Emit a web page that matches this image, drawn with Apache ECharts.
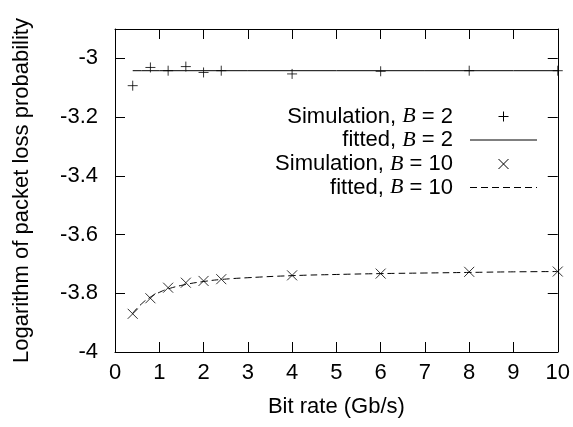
<!DOCTYPE html>
<html>
<head>
<meta charset="utf-8">
<script src="https://cdn.jsdelivr.net/npm/echarts@6/dist/echarts.min.js"></script>
<style>
  html, body { margin: 0; padding: 0; background: #fff; }
  #main { width: 573px; height: 427px; }
</style>
</head>
<body>
<div id="main"></div>
<script>
// measured points, bit rate in Gb/s
const bitRates = [0.4, 0.8, 1.2, 1.6, 2, 2.4, 4, 6, 8, 10];
const simB2 = [-3.093, -3.031, -3.042, -3.028, -3.048, -3.042, -3.053, -3.044, -3.042, -3.042];
const simB10 = [-3.870, -3.817, -3.781, -3.764, -3.758, -3.752, -3.739, -3.733, -3.727, -3.726];

// fitted curves
const fitX = [0.4, 0.6, 0.8, 1, 1.2, 1.6, 2, 2.4, 3, 4, 5, 6, 7, 8, 9, 10];
const fitB2 = [-3.042, -3.042, -3.042, -3.042, -3.042, -3.042, -3.042, -3.042, -3.042, -3.042, -3.042, -3.042, -3.042, -3.042, -3.042, -3.042];
const fitB10 = [-3.868, -3.836, -3.813, -3.797, -3.785, -3.770, -3.760, -3.753, -3.747, -3.740, -3.736, -3.733, -3.731, -3.729, -3.727, -3.726];

const xTicks = { min: 0, max: 10, interval: 1 };
const yTicks = { min: -4, max: -2.9, interval: 0.2 };

const FONT = 'Liberation Sans';
const PLUS = 'path://M0,5L10,5M5,0L5,10';
const CROSS = 'path://M0,0L10,10M0,10L10,0';

function pairs(xs, ys) {
    return xs.map((x, i) => [x, ys[i]]);
}

let chart = echarts.init(document.getElementById('main'), null, { renderer: 'canvas' });

const axisCommon = {
    type: 'value',
    axisLine: { show: true, onZero: false, lineStyle: { color: '#000', width: 1 } },
    axisTick: { show: true, inside: true, length: 10, lineStyle: { color: '#000', width: 1 } },
    splitLine: { show: false }
};

function seg(x1, y1, x2, y2, dash) {
    return {
        type: 'line',
        shape: { x1: x1, y1: y1, x2: x2, y2: y2 },
        style: { stroke: '#000', lineWidth: 1, lineDash: dash || null }
    };
}

// legend key drawn by hand: text on the left, sample on the right
function legendRow(y, label, key) {
    const items = [{
        type: 'text',
        x: 453, y: y,
        style: {
            text: label,
            font: '22px ' + FONT,
            fill: '#000',
            align: 'right',
            verticalAlign: 'middle',
            rich: { i: { fontStyle: 'italic', fontFamily: 'Liberation Serif', fontSize: 22, fill: '#000' } }
        }
    }];
    const cx = 503.5;
    if (key === 'line') items.push(seg(470, y, 537, y));
    if (key === 'dash') items.push(seg(470, y, 537, y, [7, 4]));
    if (key === 'plus') {
        items.push(seg(cx - 5, y, cx + 5, y));
        items.push(seg(cx, y - 5, cx, y + 5));
    }
    if (key === 'cross') {
        items.push(seg(cx - 5, y - 5, cx + 5, y + 5));
        items.push(seg(cx - 5, y + 5, cx + 5, y - 5));
    }
    return items;
}

chart.setOption({
    backgroundColor: '#fff',
    animation: false,
    textStyle: { fontFamily: FONT },
    grid: { left: 115, right: 15, top: 29, bottom: 75 },
    xAxis: [
        Object.assign({}, axisCommon, xTicks, {
            position: 'bottom',
            name: 'Bit rate (Gb/s)',
            nameLocation: 'middle',
            nameGap: 44,
            nameTextStyle: { fontFamily: FONT, fontSize: 22, color: '#000' },
            axisLabel: { color: '#000', fontFamily: FONT, fontSize: 22, margin: 10 }
        }),
        Object.assign({}, axisCommon, xTicks, {
            position: 'top',
            axisLabel: { show: false }
        })
    ],
    yAxis: [
        Object.assign({}, axisCommon, yTicks, {
            position: 'left',
            name: 'Logarithm of packet loss probability',
            nameLocation: 'middle',
            nameGap: 82,
            nameTextStyle: { fontFamily: FONT, fontSize: 22, color: '#000' },
            axisLabel: { color: '#000', fontFamily: FONT, fontSize: 22, margin: 17, showMaxLabel: false }
        }),
        Object.assign({}, axisCommon, yTicks, {
            position: 'right',
            axisLabel: { show: false }
        })
    ],
    series: [
        {
            name: 'fitted, B = 2',
            type: 'line',
            data: pairs(fitX, fitB2),
            showSymbol: false,
            lineStyle: { color: '#000', width: 1 },
            z: 2
        },
        {
            name: 'fitted, B = 10',
            type: 'line',
            data: pairs(fitX, fitB10),
            showSymbol: false,
            smooth: true,
            lineStyle: { color: '#000', width: 1, type: [7, 4] },
            z: 2
        },
        {
            name: 'Simulation, B = 2',
            type: 'scatter',
            data: pairs(bitRates, simB2),
            symbol: PLUS,
            symbolSize: 10,
            itemStyle: { color: 'transparent', borderColor: '#000', borderWidth: 1 },
            z: 3
        },
        {
            name: 'Simulation, B = 10',
            type: 'scatter',
            data: pairs(bitRates, simB10),
            symbol: CROSS,
            symbolSize: 10,
            itemStyle: { color: 'transparent', borderColor: '#000', borderWidth: 1 },
            z: 3
        }
    ],
    graphic: [].concat(
        legendRow(116.5, 'Simulation, {i|B} = 2', 'plus'),
        legendRow(140, 'fitted, {i|B} = 2', 'line'),
        legendRow(164, 'Simulation, {i|B} = 10', 'cross'),
        legendRow(187.5, 'fitted, {i|B} = 10', 'dash')
    )
});
</script>
</body>
</html>
